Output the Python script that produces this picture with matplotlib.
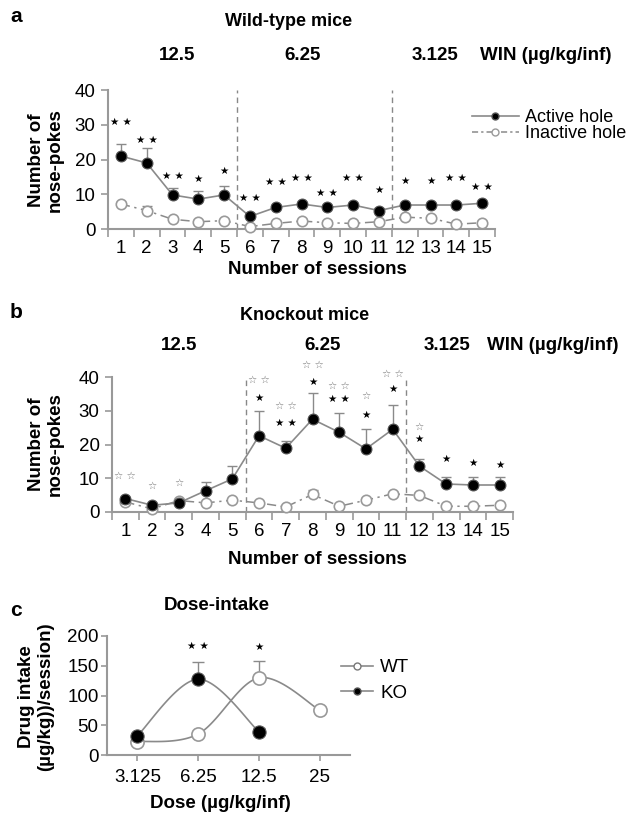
import numpy as np
import matplotlib
matplotlib.use('Agg')
import matplotlib.pyplot as plt
from matplotlib.lines import Line2D

plt.rcParams['font.family'] = ['Liberation Sans', 'DejaVu Sans']

# ---------------- data ----------------
sessions = list(range(1, 16))
session_labels = [str(s) for s in sessions]

wt_active = [21.0, 19.0, 9.8, 8.6, 9.8, 3.6, 6.2, 7.2, 6.2, 6.9, 5.3, 6.9, 6.9, 6.9, 7.4]
wt_active_err = [3.4, 4.3, 1.9, 2.4, 2.6, 0.6, 0.6, 0.6, 0.6, 0.6, 0.6, 0.6, 0.6, 0.6, 0.6]
wt_inactive = [7.2, 5.3, 2.8, 2.1, 2.4, 0.7, 1.6, 2.3, 1.8, 1.6, 2.1, 3.4, 3.1, 1.4, 1.8]
wt_inactive_err = [0.6, 1.3, 0.5, 0.5, 0.6, 0.3, 0.4, 0.5, 0.4, 0.4, 0.5, 0.5, 0.6, 0.5, 0.5]
wt_stars = ['**', '**', '**', '*', '*', '**', '**', '**', '**', '**', '*', '*', '*', '**', '**']
wt_star_y = [30.8, 25.7, 15.4, 14.5, 16.8, 8.8, 13.4, 14.8, 10.5, 14.8, 11.3, 13.7, 13.7, 14.6, 12.0]

ko_active = [4.0, 2.0, 2.7, 6.3, 9.8, 22.6, 18.9, 27.5, 23.6, 18.7, 24.5, 13.6, 8.3, 8.0, 8.0]
ko_active_err = [0.5, 0.5, 0.5, 2.5, 3.9, 7.4, 2.1, 7.9, 5.6, 6.0, 7.1, 2.0, 2.2, 2.5, 2.5]
ko_inactive = [3.0, 0.9, 3.4, 2.7, 3.5, 2.7, 1.5, 5.2, 1.7, 3.5, 5.4, 4.9, 1.7, 1.7, 2.0]
ko_inactive_err = [0.4, 0.4, 0.5, 0.5, 0.5, 0.4, 0.4, 1.2, 0.4, 0.6, 0.6, 0.8, 0.4, 0.4, 0.4]
ko_open_stars = ['**', '*', '*', '', '', '**', '**', '**', '**', '*', '**', '*', '', '', '']
ko_open_star_y = [10.7, 7.9, 8.5, 0, 0, 39.1, 31.5, 43.6, 37.4, 34.5, 40.8, 25.3, 0, 0, 0]
ko_filled_stars = ['', '', '', '', '', '*', '**', '*', '**', '*', '*', '*', '*', '*', '*']
ko_filled_star_y = [0, 0, 0, 0, 0, 33.9, 26.3, 38.4, 33.4, 28.9, 36.5, 21.5, 15.6, 14.6, 13.9]

dose_labels = ['3.125', '6.25', '12.5', '25']
wt_intake = [22.3, 35.2, 129.6, 75.4]
wt_intake_err = [2.0, 3.0, 28.4, 5.0]
ko_intake = [32.4, 127.4, 39.1]
ko_intake_err = [3.0, 29.0, 6.0]
intake_stars = ['', '**', '*', '']
intake_star_y = [0, 184, 182, 0]

dose_phase_labels = ['12.5', '6.25', '3.125']
boundaries = [5.5, 11.5]

# ---------------- figure ----------------
W, H = 637, 814
fig = plt.figure(figsize=(W / 100, H / 100), dpi=100)

GRAY = '#999999'
LINEG = '#8a8a8a'
TICKFS = 13.5
BOLDFS = 13.5


def px_axes(l, t, r, b):
    return fig.add_axes([l / W, 1 - b / H, (r - l) / W, (b - t) / H])


def ftext(x, y, s, **kw):
    fig.text(x / W, 1 - y / H, s, **kw)


def star_str(s, ch):
    return ' '.join([ch] * len(s))


def style_session_axes(ax):
    for sp in ['top', 'right']:
        ax.spines[sp].set_visible(False)
    for sp in ['left', 'bottom']:
        ax.spines[sp].set_color(GRAY)
        ax.spines[sp].set_linewidth(1.5)
    ax.set_xlim(0.5, 15.5)
    ax.set_ylim(0, 40)
    ax.set_yticks([0, 10, 20, 30, 40])
    ax.set_xticks(sessions)
    ax.set_xticklabels(session_labels)
    ax.set_xticks(np.arange(0.5, 16, 1.0), minor=True)
    ax.tick_params(axis='x', which='major', length=0, pad=8, labelsize=TICKFS)
    ax.tick_params(axis='x', which='minor', length=6, width=1.2, color=GRAY, direction='out')
    ax.tick_params(axis='y', which='major', length=5, width=1.2, color=GRAY, pad=4, labelsize=TICKFS)
    for b in boundaries:
        ax.plot([b, b], [0, 40], color='#888888', lw=1.0, ls=(0, (4, 3)), zorder=1)


def session_panel(ax, active, active_err, inactive, inactive_err):
    ax.errorbar(sessions, inactive, yerr=[np.zeros(15), inactive_err], fmt='none',
                ecolor=LINEG, elinewidth=1.0, capsize=3.5, capthick=1.0, zorder=2)
    ax.plot(sessions, inactive, color=LINEG, lw=1.1, ls=(0, (6, 3, 1.5, 3)), zorder=2)
    ax.plot(sessions, inactive, ls='none', marker='o', ms=7.5, mfc='white', mec='#9a9a9a',
            mew=1.2, zorder=3, clip_on=False)
    ax.errorbar(sessions, active, yerr=[np.zeros(15), active_err], fmt='none',
                ecolor=LINEG, elinewidth=1.0, capsize=3.5, capthick=1.0, zorder=4)
    ax.plot(sessions, active, color=LINEG, lw=1.2, zorder=4)
    ax.plot(sessions, active, ls='none', marker='o', ms=7.8, mfc='black', mec='#555555',
            mew=0.8, zorder=5, clip_on=False)


STAR_KW = dict(family='DejaVu Sans', fontsize=7.5, ha='center', va='center')

# ---------------- panel a ----------------
axa = px_axes(108, 90, 495, 229)
style_session_axes(axa)
session_panel(axa, wt_active, wt_active_err, wt_inactive, wt_inactive_err)
for x, s, y in zip(sessions, wt_stars, wt_star_y):
    if s:
        axa.text(x, y, star_str(s, '\u2605'), color='black', **STAR_KW)

h1 = Line2D([], [], color=LINEG, lw=1.2, marker='o', ms=5, mfc='black', mec='#555555')
h2 = Line2D([], [], color=LINEG, lw=1.1, ls=(0, (4, 2, 1.5, 2)), marker='o', ms=5,
            mfc='white', mec='#9a9a9a')
fig.legend([h1, h2], ['Active hole', 'Inactive hole'], loc='upper left',
           bbox_to_anchor=(472 / W, 1 - 109 / H), frameon=False, fontsize=13,
           handlelength=2.6, handletextpad=0.35, labelspacing=-0.05, borderaxespad=0,
           borderpad=0)

ftext(10, 17, 'a', fontsize=15, fontweight='bold', ha='left', va='center')
ftext(289, 22, 'Wild-type mice', fontsize=13, fontweight='bold', ha='center', va='center')
for xx, lab in zip([177, 303, 435], dose_phase_labels):
    ftext(xx, 56, lab, fontsize=BOLDFS, fontweight='bold', ha='center', va='center')
ftext(480, 56, 'WIN (\u00b5g/kg/inf)', fontsize=BOLDFS, fontweight='bold', ha='left', va='center')
ftext(46, 160, 'Number of\nnose-pokes', fontsize=BOLDFS, fontweight='bold', rotation=90,
      ha='center', va='center', multialignment='center', linespacing=1.1)
ftext(317, 270, 'Number of sessions', fontsize=BOLDFS, fontweight='bold', ha='center', va='center')

# ---------------- panel b ----------------
axb = px_axes(112, 377, 513, 512)
style_session_axes(axb)
session_panel(axb, ko_active, ko_active_err, ko_inactive, ko_inactive_err)
for x, s, y in zip(sessions, ko_open_stars, ko_open_star_y):
    if s:
        axb.text(x, y, star_str(s, '\u2606'), color='#777777', **STAR_KW)
for x, s, y in zip(sessions, ko_filled_stars, ko_filled_star_y):
    if s:
        axb.text(x, y, star_str(s, '\u2605'), color='black', **STAR_KW)

ftext(10, 313, 'b', fontsize=15, fontweight='bold', ha='left', va='center')
ftext(305, 315, 'Knockout mice', fontsize=13, fontweight='bold', ha='center', va='center')
for xx, lab in zip([179, 323, 447], dose_phase_labels):
    ftext(xx, 345, lab, fontsize=BOLDFS, fontweight='bold', ha='center', va='center')
ftext(487, 345, 'WIN (\u00b5g/kg/inf)', fontsize=BOLDFS, fontweight='bold', ha='left', va='center')
ftext(46, 444, 'Number of\nnose-pokes', fontsize=BOLDFS, fontweight='bold', rotation=90,
      ha='center', va='center', multialignment='center', linespacing=1.1)
ftext(317, 560, 'Number of sessions', fontsize=BOLDFS, fontweight='bold', ha='center', va='center')

# ---------------- panel c ----------------
axc = px_axes(107, 636, 350, 755)
for sp in ['top', 'right']:
    axc.spines[sp].set_visible(False)
for sp in ['left', 'bottom']:
    axc.spines[sp].set_color(GRAY)
    axc.spines[sp].set_linewidth(1.5)
axc.set_xlim(-0.5, 3.5)
axc.set_ylim(0, 200)
axc.set_yticks([0, 50, 100, 150, 200])
xi = np.arange(len(dose_labels))
axc.set_xticks(xi)
axc.set_xticklabels(dose_labels)
axc.tick_params(axis='x', length=4, width=1.2, color=GRAY, pad=6, labelsize=TICKFS)
axc.tick_params(axis='y', length=4, width=1.2, color=GRAY, pad=2, labelsize=TICKFS)


def smooth_curve(ax, xs, ys, n=40, tension=0.5):
    # Catmull-Rom spline drawn in display space (like a spreadsheet's smoothed line)
    pts = ax.transData.transform(np.column_stack([xs, ys]))
    P = np.vstack([pts[0], pts, pts[-1]])
    out = []
    for i in range(1, len(P) - 2):
        p0, p1, p2, p3 = P[i - 1], P[i], P[i + 1], P[i + 2]
        c1 = p1 + (p2 - p0) * tension / 3
        c2 = p2 - (p3 - p1) * tension / 3
        t = np.linspace(0, 1, n)[:, None]
        seg = ((1 - t) ** 3) * p1 + 3 * ((1 - t) ** 2) * t * c1 + 3 * (1 - t) * t ** 2 * c2 + t ** 3 * p2
        out.append(seg)
    out = np.vstack(out)
    return ax.transData.inverted().transform(out)


fig.canvas.draw()
wt_curve = smooth_curve(axc, xi, wt_intake, tension=0.5)
ko_curve = smooth_curve(axc, xi[:len(ko_intake)], ko_intake, tension=0.5)
axc.plot(wt_curve[:, 0], wt_curve[:, 1], color=LINEG, lw=1.2, zorder=2)
axc.plot(ko_curve[:, 0], ko_curve[:, 1], color=LINEG, lw=1.2, zorder=2)
axc.errorbar(xi, wt_intake, yerr=[np.zeros(4), wt_intake_err], fmt='none', ecolor=LINEG,
             elinewidth=1.0, capsize=4, capthick=1.0, zorder=3)
axc.errorbar(xi[:3], ko_intake, yerr=[np.zeros(3), ko_intake_err], fmt='none', ecolor=LINEG,
             elinewidth=1.0, capsize=4, capthick=1.0, zorder=3)
axc.plot(xi, wt_intake, ls='none', marker='o', ms=9.5, mfc='white', mec='#999999', mew=1.2, zorder=4)
axc.plot(xi[:3], ko_intake, ls='none', marker='o', ms=9.5, mfc='black', mec='#555555', mew=0.8, zorder=5)
for x, s, y in zip(xi, intake_stars, intake_star_y):
    if s:
        axc.text(x, y, star_str(s, '\u2605'), color='black', **STAR_KW)

hw = Line2D([], [], color=LINEG, lw=1.2, marker='o', ms=5, mfc='white', mec='#777777')
hk = Line2D([], [], color=LINEG, lw=1.2, marker='o', ms=5, mfc='black', mec='#555555')
fig.legend([hw, hk], ['WT', 'KO'], loc='upper left', bbox_to_anchor=(341 / W, 1 - 659 / H),
           frameon=False, fontsize=13.5, handlelength=1.7, handletextpad=0.4,
           labelspacing=0.45, borderaxespad=0, borderpad=0)

ftext(10, 611, 'c', fontsize=15, fontweight='bold', ha='left', va='center')
ftext(217, 605, 'Dose-intake', fontsize=BOLDFS, fontweight='bold', ha='center', va='center')
ftext(36, 697, 'Drug intake\n(\u00b5g/kg))/session)', fontsize=BOLDFS, fontweight='bold', rotation=90,
      ha='center', va='center', multialignment='center', linespacing=1.1)
ftext(220, 804, 'Dose (\u00b5g/kg/inf)', fontsize=BOLDFS, fontweight='bold', ha='center', va='center')

fig.savefig('out.png', dpi=100)
